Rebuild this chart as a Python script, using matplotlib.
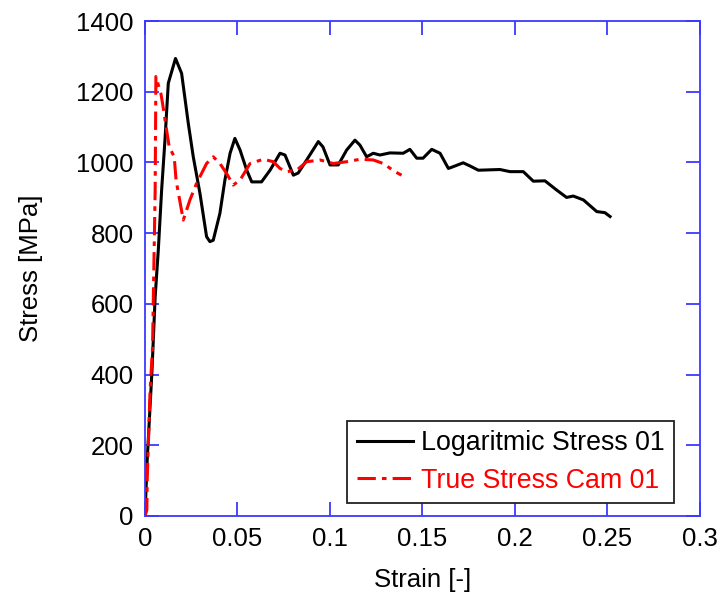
import matplotlib
matplotlib.use("Agg")
import matplotlib.pyplot as plt

plt.rcParams['font.family'] = ['Liberation Sans', 'DejaVu Sans']

# Logaritmic Stress 01 (black solid)
log_strain = [0.0, 0.0012, 0.0038, 0.0055, 0.0072, 0.009, 0.0108, 0.0126, 0.0165,
              0.0198, 0.0234, 0.0261, 0.0297, 0.0333, 0.0351, 0.0369, 0.0405, 0.0432,
              0.046, 0.0486, 0.0514, 0.055, 0.0577, 0.063, 0.0676, 0.073, 0.0757,
              0.0802, 0.0828, 0.0874, 0.0937, 0.0962, 0.1, 0.1045, 0.109, 0.1135,
              0.1162, 0.1198, 0.1234, 0.127, 0.1324, 0.1396, 0.1432, 0.1469, 0.1503,
              0.155, 0.1595, 0.164, 0.1666, 0.172, 0.1757, 0.1802, 0.1919, 0.1973,
              0.2045, 0.2099, 0.2162, 0.2225, 0.2279, 0.2315, 0.237, 0.2442, 0.2486,
              0.2514]
log_stress = [0, 158, 413, 620, 752, 922, 1063, 1224, 1294, 1252, 1111, 1016, 913,
              790, 776, 780, 856, 950, 1026, 1068, 1035, 978, 945, 945, 978, 1026,
              1021, 964, 970, 1007, 1059, 1044, 993, 993, 1035, 1063, 1049, 1016,
              1026, 1021, 1027, 1026, 1037, 1012, 1012, 1037, 1026, 983, 988, 999,
              990, 978, 980, 974, 974, 947, 948, 922, 901, 905, 894, 861, 858, 847]

# True Stress Cam 01 (red dash-dot)
cam_strain = [0.0, 0.001, 0.0012, 0.0027, 0.0041, 0.0045, 0.0055, 0.0059, 0.0066,
              0.0086, 0.0095, 0.0114, 0.0131, 0.0158, 0.0168, 0.0207, 0.0243, 0.0279,
              0.0333, 0.0369, 0.0405, 0.0441, 0.0477, 0.0514, 0.0568, 0.064, 0.0694,
              0.073, 0.0766, 0.082, 0.0874, 0.0946, 0.1018, 0.109, 0.1162, 0.1234,
              0.1288, 0.1351, 0.1387]
cam_stress = [0, 17, 102, 348, 479, 611, 920, 1243, 1230, 1195, 1167, 1101, 1044,
              1016, 950, 837, 894, 941, 997, 1016, 997, 969, 936, 950, 997, 1009,
              1002, 983, 974, 978, 1002, 1007, 997, 1002, 1009, 1007, 997, 974, 964]

xticks = [0, 0.05, 0.1, 0.15, 0.2, 0.25, 0.3]
xtick_labels = ["0", "0.05", "0.1", "0.15", "0.2", "0.25", "0.3"]
yticks = [0, 200, 400, 600, 800, 1000, 1200, 1400]

blue = '#3a3aff'
fs = 18.5

fig = plt.figure(figsize=(7.22, 6.04), dpi=100)
ax = fig.add_axes([0.2008, 0.1457, 0.7687, 0.8195])

ax.plot(log_strain, log_stress, color='black', lw=2.2, label='Logaritmic Stress 01')
ax.plot(cam_strain, cam_stress, color='red', lw=2.2, linestyle=(0, (6, 2, 1.5, 2)),
        label='True Stress Cam 01')

ax.set_xlim(0, 0.3)
ax.set_ylim(0, 1400)
ax.set_xticks(xticks)
ax.set_xticklabels(xtick_labels)
ax.set_yticks(yticks)

for s in ax.spines.values():
    s.set_color(blue)
    s.set_linewidth(1.3)
ax.tick_params(direction='in', length=10, width=1.3, color=blue, labelcolor='black',
               labelsize=fs, top=True, right=True, pad=8)

ax.set_xlabel('Strain [-]', fontsize=fs, labelpad=12)
ax.set_ylabel('Stress [MPa]', fontsize=fs, labelpad=24)

leg = ax.legend(loc='lower right', bbox_to_anchor=(0.953, 0.026), borderaxespad=0,
                fontsize=19.3, fancybox=False, framealpha=1, edgecolor='#222222',
                handlelength=2.1, handletextpad=0.3, borderpad=0.35, labelspacing=0.42)
leg.get_frame().set_linewidth(1.3)
for txt, c in zip(leg.get_texts(), ['black', 'red']):
    txt.set_color(c)

fig.savefig('out.png', dpi=100)
